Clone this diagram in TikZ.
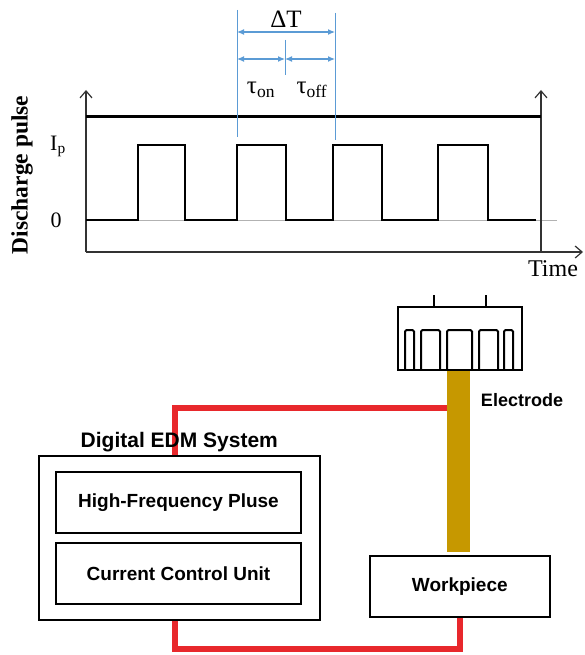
\documentclass[tikz,border=0pt]{standalone}
\usepackage{fontspec}
\setmainfont{Liberation Serif}
\newfontfamily\labelfont{Liberation Sans}
\usetikzlibrary{arrows.meta,positioning}
\definecolor{dimblue}{RGB}{91,155,213}
\definecolor{wirered}{RGB}{232,40,44}
\definecolor{rodgold}{RGB}{198,152,0}

\begin{document}
\begin{tikzpicture}[x=1pt,y=-1pt,
  axis/.style={line width=1.2pt,draw=black!80,-{Straight Barb[length=7pt,width=12pt]}},
  sig/.style={line width=2.5pt,line join=miter},
  dimline/.style={dimblue,line width=1pt},
  dimarrow/.style={dimblue,line width=1.2pt,{Latex[length=7pt,width=6pt]}-{Latex[length=7pt,width=6pt]}},
  unit/.style={draw,line width=2pt,minimum width=245pt,minimum height=61pt,
    font=\labelfont\bfseries\fontsize{19}{21}\selectfont},
  lbl/.style={font=\labelfont\bfseries\fontsize{18}{20}\selectfont},
  wire/.style={wirered,line width=6pt},
  ]
\useasboundingbox (0,0) rectangle (584,655);

% === Pulse train ===
\draw[line width=0.8pt,black!30] (86,220) -- (557,220);
\draw[axis] (86,252) -- (86,90);
\draw[axis] (86,252) -- (583,252);
\draw[axis] (541,252) -- (541,90);
\draw[line width=3pt] (86,117) -- (541,117);
\draw[sig] (86,220)
  \foreach \a/\b in {138/185,237/286,333/382,438/488} { -- (\a,220) -- (\a,145) -- (\b,145) -- (\b,220) }
  -- (536,220);

\node[font=\bfseries\fontsize{23.5}{26}\selectfont,rotate=90] (ylabel) at (22,175) {Discharge pulse};
\node[font=\fontsize{22}{24}\selectfont] (iplabel) at (58,146) {I\textsubscript{p}};
\node[font=\fontsize{22}{24}\selectfont] (zerolabel) at (56,220) {0};
\node[font=\fontsize{24}{26}\selectfont] (tlabel) at (553,269) {Time};

% period and on/off times
\draw[dimline] (237,10) -- (237,137);
\draw[dimline] (335,13) -- (335,140);
\draw[dimline] (285,40) -- (285,75);
\draw[dimarrow] (237,32) -- (335,32);
\draw[dimarrow] (237,59) -- (285,59);
\draw[dimarrow] (285,59) -- (335,59);
\node[font=\fontsize{25}{27}\selectfont] (dtlabel) at (286,19) {ΔT};
\node[font=\fontsize{25}{27}\selectfont] (tonlabel) at (261,90) {τ\textsubscript{on}};
\node[font=\fontsize{25}{27}\selectfont] (tofflabel) at (312,90) {τ\textsubscript{off}};

% === EDM set-up ===
\node[draw,line width=2pt,minimum width=281pt,minimum height=164pt] (edm) at (179.3,538) {};
\node[unit] (hf) at (178.5,502.2) {High-Frequency Pluse};
\node[unit] (ccu) at (178.5,573.5) {Current Control Unit};
\node[unit,minimum width=180.5pt] (wp) at (459.8,586.4) {Workpiece};
\node[fill=rodgold,minimum width=23pt,minimum height=182pt,inner sep=0pt] (rod) at (458.5,461) {};

% electrode head
\draw[line width=2pt] (398,307) rectangle (522,370);
\foreach \px in {434,486}
  \draw[line width=2pt] (\px,295) -- (\px,307);
\foreach \a/\b in {405/414,421/440,447/472,479/498,504/513}
  \draw[line width=2pt,rounded corners=1.5pt] (\a,370) -- (\a,330) -- (\b,330) -- (\b,370);
\node[lbl] (electrodelbl) at (522,400) {Electrode};

% wiring
\coordinate (wtop) at (175,408);
\coordinate (wbot) at (175,649);
\draw[wire] (edm.north -| wtop) -- (wtop) -- (wtop -| rod.west);
\draw[wire] (edm.south -| wbot) -- (wbot) -| (wp.south);
\node[lbl,font=\labelfont\bfseries\fontsize{21}{23}\selectfont,above=0pt of edm] (edmlbl) {Digital EDM System};

\end{tikzpicture}
\end{document}
